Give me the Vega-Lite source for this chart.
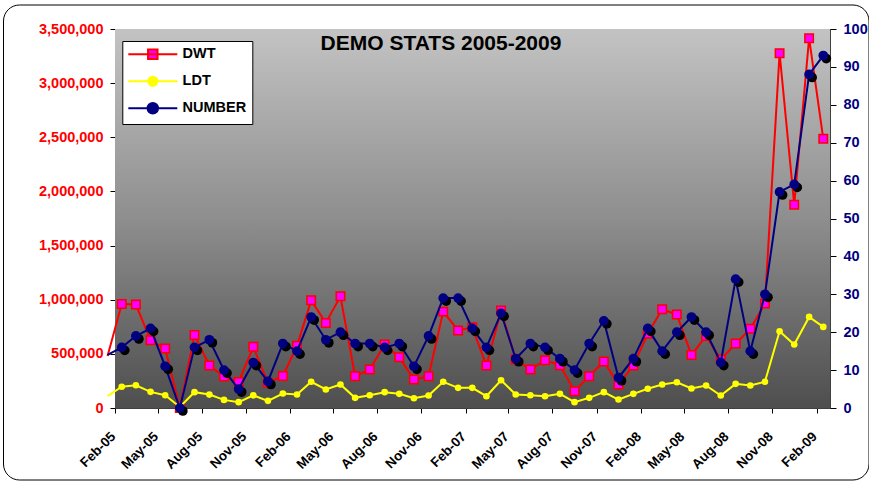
{
  "$schema": "https://vega.github.io/schema/vega-lite/v6.json",
  "width": 715,
  "height": 379,
  "autosize": "none",
  "padding": {"left": 115, "top": 29, "right": 39, "bottom": 74},
  "background": "#FFFFFF",
  "config": {
    "font": "Liberation Sans",
    "view": {"stroke": "#808080", "strokeWidth": 1},
    "axis": {"labelFont": "Liberation Sans", "labelFontWeight": "bold", "domainColor": "#404040", "tickColor": "#000000", "title": null}
  },
  "title": {
    "text": "DEMO STATS 2005-2009",
    "font": "Liberation Sans",
    "fontSize": 21,
    "fontWeight": "bold",
    "color": "#000000",
    "anchor": "middle",
    "frame": "group",
    "baseline": "alphabetic",
    "dx": -31.5,
    "offset": -66.5
  },
  "data": {
    "values": [
      {"month": "2005-01-01", "DWT": 480000, "LDT": 110000, "NUMBER": 14},
      {"month": "2005-02-01", "DWT": 961000, "LDT": 196000, "NUMBER": 16},
      {"month": "2005-03-01", "DWT": 955000, "LDT": 210000, "NUMBER": 19},
      {"month": "2005-04-01", "DWT": 625000, "LDT": 149000, "NUMBER": 21},
      {"month": "2005-05-01", "DWT": 549000, "LDT": 118000, "NUMBER": 11},
      {"month": "2005-06-01", "DWT": 0, "LDT": 10000, "NUMBER": 0},
      {"month": "2005-07-01", "DWT": 675000, "LDT": 146000, "NUMBER": 16},
      {"month": "2005-08-01", "DWT": 392000, "LDT": 124000, "NUMBER": 18},
      {"month": "2005-09-01", "DWT": 290000, "LDT": 75000, "NUMBER": 10},
      {"month": "2005-10-01", "DWT": 241000, "LDT": 54000, "NUMBER": 5},
      {"month": "2005-11-01", "DWT": 565000, "LDT": 117000, "NUMBER": 12},
      {"month": "2005-12-01", "DWT": 233000, "LDT": 66000, "NUMBER": 7},
      {"month": "2006-01-01", "DWT": 296000, "LDT": 134000, "NUMBER": 17},
      {"month": "2006-02-01", "DWT": 574000, "LDT": 125000, "NUMBER": 15},
      {"month": "2006-03-01", "DWT": 994000, "LDT": 242000, "NUMBER": 24},
      {"month": "2006-04-01", "DWT": 786000, "LDT": 171000, "NUMBER": 18},
      {"month": "2006-05-01", "DWT": 1031000, "LDT": 217000, "NUMBER": 20},
      {"month": "2006-06-01", "DWT": 293000, "LDT": 94000, "NUMBER": 17},
      {"month": "2006-07-01", "DWT": 355000, "LDT": 118000, "NUMBER": 17},
      {"month": "2006-08-01", "DWT": 586000, "LDT": 146000, "NUMBER": 16},
      {"month": "2006-09-01", "DWT": 469000, "LDT": 131000, "NUMBER": 17},
      {"month": "2006-10-01", "DWT": 263000, "LDT": 90000, "NUMBER": 11},
      {"month": "2006-11-01", "DWT": 293000, "LDT": 115000, "NUMBER": 19},
      {"month": "2006-12-01", "DWT": 890000, "LDT": 242000, "NUMBER": 29},
      {"month": "2007-01-01", "DWT": 716000, "LDT": 186000, "NUMBER": 29},
      {"month": "2007-02-01", "DWT": 745000, "LDT": 186000, "NUMBER": 21},
      {"month": "2007-03-01", "DWT": 392000, "LDT": 109000, "NUMBER": 16},
      {"month": "2007-04-01", "DWT": 900000, "LDT": 256000, "NUMBER": 25},
      {"month": "2007-05-01", "DWT": 447000, "LDT": 125000, "NUMBER": 13},
      {"month": "2007-06-01", "DWT": 355000, "LDT": 118000, "NUMBER": 17},
      {"month": "2007-07-01", "DWT": 441000, "LDT": 109000, "NUMBER": 16},
      {"month": "2007-08-01", "DWT": 395000, "LDT": 131000, "NUMBER": 13},
      {"month": "2007-09-01", "DWT": 155000, "LDT": 54000, "NUMBER": 10},
      {"month": "2007-10-01", "DWT": 293000, "LDT": 94000, "NUMBER": 17},
      {"month": "2007-11-01", "DWT": 430000, "LDT": 146000, "NUMBER": 23},
      {"month": "2007-12-01", "DWT": 217000, "LDT": 78000, "NUMBER": 8},
      {"month": "2008-01-01", "DWT": 392000, "LDT": 131000, "NUMBER": 13},
      {"month": "2008-02-01", "DWT": 686000, "LDT": 178000, "NUMBER": 21},
      {"month": "2008-03-01", "DWT": 912000, "LDT": 217000, "NUMBER": 15},
      {"month": "2008-04-01", "DWT": 863000, "LDT": 238000, "NUMBER": 20},
      {"month": "2008-05-01", "DWT": 490000, "LDT": 180000, "NUMBER": 24},
      {"month": "2008-06-01", "DWT": 665000, "LDT": 208000, "NUMBER": 20},
      {"month": "2008-07-01", "DWT": 447000, "LDT": 115000, "NUMBER": 12},
      {"month": "2008-08-01", "DWT": 595000, "LDT": 223000, "NUMBER": 34},
      {"month": "2008-09-01", "DWT": 731000, "LDT": 208000, "NUMBER": 15},
      {"month": "2008-10-01", "DWT": 964000, "LDT": 242000, "NUMBER": 30},
      {"month": "2008-11-01", "DWT": 3277000, "LDT": 709000, "NUMBER": 57},
      {"month": "2008-12-01", "DWT": 1877000, "LDT": 586000, "NUMBER": 59},
      {"month": "2009-01-01", "DWT": 3415000, "LDT": 841000, "NUMBER": 88},
      {"month": "2009-02-01", "DWT": 2486000, "LDT": 749000, "NUMBER": 93}
    ]
  },
  "layer": [
    {
      "data": {"values": [{}]},
      "mark": {
        "type": "rect",
        "fill": {"gradient": "linear", "x1": 0, "y1": 0, "x2": 0, "y2": 1,
          "stops": [{"offset": 0, "color": "#C3C3C3"}, {"offset": 0.5, "color": "#8E8E8E"}, {"offset": 1, "color": "#4E4E4E"}]}
      },
      "encoding": {"x": {"value": 0}, "x2": {"value": "width"}, "y": {"value": 0}, "y2": {"value": "height"}}
    },
    {
      "data": {"values": [{}]},
      "mark": {"type": "rect", "filled": false, "stroke": "#000000", "strokeWidth": 1, "cornerRadius": 16, "clip": false},
      "encoding": {"x": {"value": -111.5}, "x2": {"value": 754}, "y": {"value": -24}, "y2": {"value": 451}}
    },
    {
      "encoding": {
        "x": {"field": "month", "type": "temporal", "timeUnit": "utcyearmonth", "bandPosition": 0.5,
          "scale": {"type": "utc", "domain": [{"year": 2005, "month": 2, "date": 1, "utc": true}, {"year": 2009, "month": 3, "date": 1, "utc": true}]},
          "axis": {"values": [
            {"year": 2005, "month": 2, "date": 1, "utc": true}, {"year": 2005, "month": 5, "date": 1, "utc": true}, {"year": 2005, "month": 8, "date": 1, "utc": true}, {"year": 2005, "month": 11, "date": 1, "utc": true},
            {"year": 2006, "month": 2, "date": 1, "utc": true}, {"year": 2006, "month": 5, "date": 1, "utc": true}, {"year": 2006, "month": 8, "date": 1, "utc": true}, {"year": 2006, "month": 11, "date": 1, "utc": true},
            {"year": 2007, "month": 2, "date": 1, "utc": true}, {"year": 2007, "month": 5, "date": 1, "utc": true}, {"year": 2007, "month": 8, "date": 1, "utc": true}, {"year": 2007, "month": 11, "date": 1, "utc": true},
            {"year": 2008, "month": 2, "date": 1, "utc": true}, {"year": 2008, "month": 5, "date": 1, "utc": true}, {"year": 2008, "month": 8, "date": 1, "utc": true}, {"year": 2008, "month": 11, "date": 1, "utc": true},
            {"year": 2009, "month": 2, "date": 1, "utc": true}],
            "labelExpr": "utcFormat(datum.value, '%b-%y')", "labelAngle": -45, "labelAlign": "right", "labelBaseline": "middle",
            "labelFontSize": 13.5, "labelColor": "#000000", "labelPadding": 21, "labelOffset": -2, "tickSize": 5,
            "grid": false, "labelOverlap": false, "labelFlush": false, "domainColor": "#404040"}}
      },
      "layer": [
        {
          "encoding": {
            "y": {"field": "DWT", "type": "quantitative", "scale": {"domain": [0, 3500000]},
              "axis": {"orient": "left", "values": [0, 500000, 1000000, 1500000, 2000000, 2500000, 3000000, 3500000], "format": ",d",
                "labelColor": "#FF0000", "labelFontSize": 14.5, "labelPadding": 7, "tickSize": 5, "grid": true, "gridColor": "#000000", "gridWidth": 1, "domainColor": "#404040"}}
          },
          "layer": [
            {
              "mark": {"type": "line", "strokeWidth": 2, "clip": false},
              "encoding": {
                "color": {"datum": "DWT", "type": "nominal",
                  "scale": {"domain": ["DWT", "LDT", "NUMBER"], "range": ["#FF0000", "#FFFF00", "#000080"]},
                  "legend": {
                    "orient": "none", "legendX": 7.3, "legendY": 12, "direction": "vertical", "title": null,
                    "fillColor": "#FFFFFF", "strokeColor": "#000000", "padding": 6,
                    "labelFont": "Liberation Sans", "labelFontWeight": "bold", "labelFontSize": 14.5, "labelColor": "#000000",
                    "symbolSize": 100, "symbolStrokeWidth": 2, "symbolOffset": 17.25, "labelOffset": 22.5, "rowPadding": 9,
                    "labelExpr": "datum.label + '\u00a0\u00a0'",
                    "encode": {"symbols": {"update": {
                      "shape": {"signal": "datum.value === 'DWT' ? 'M-4.9,0H4.9M-0.95,-0.95H0.95V0.95H-0.95Z' : datum.value === 'LDT' ? 'M-4.9,0H4.9M0.9,0A0.9,0.9 0 1,1 -0.9,0A0.9,0.9 0 1,1 0.9,0Z' : 'M-4.9,0H4.9M1.05,0A1.05,1.05 0 1,1 -1.05,0A1.05,1.05 0 1,1 1.05,0Z'"},
                      "fill": {"signal": "datum.value === 'DWT' ? '#FF00FF' : datum.value === 'LDT' ? '#FFFF00' : '#000080'"},
                      "stroke": {"signal": "datum.value === 'DWT' ? '#FF0000' : datum.value === 'LDT' ? '#FFFF00' : '#000080'"},
                      "strokeWidth": {"value": 2},
                      "opacity": {"value": 1},
                      "fillOpacity": {"value": 1},
                      "strokeOpacity": {"value": 1}
                    }}}
                  }}
              }
            },
            {
              "transform": [{"filter": "+toDate(datum.month) > utc(2005, 0, 15)"}],
              "mark": {"type": "square", "size": 72, "color": "#FF00FF", "stroke": "#FF0000", "strokeWidth": 1.5, "opacity": 1, "clip": false}
            }
          ]
        },
        {
          "encoding": {
            "y": {"field": "LDT", "type": "quantitative"}
          },
          "layer": [
            {
              "mark": {"type": "line", "strokeWidth": 2, "clip": false},
              "encoding": {"color": {"datum": "LDT", "type": "nominal"}}
            },
            {
              "transform": [{"filter": "+toDate(datum.month) > utc(2005, 0, 15)"}],
              "mark": {"type": "circle", "size": 44, "color": "#FFFF00", "opacity": 1, "clip": false}
            }
          ]
        }
      ]
    },
    {
      "encoding": {
        "x": {"field": "month", "type": "temporal", "timeUnit": "utcyearmonth", "bandPosition": 0.5},
        "y": {"field": "NUMBER", "type": "quantitative", "scale": {"domain": [0, 100]},
          "axis": {"orient": "right", "values": [0, 10, 20, 30, 40, 50, 60, 70, 80, 90, 100],
            "labelColor": "#000080", "labelFontSize": 14.5, "labelPadding": 7, "tickSize": 6, "grid": false, "domainColor": "#404040"}}
      },
      "layer": [
        {
          "mark": {"type": "line", "strokeWidth": 2, "clip": false},
          "encoding": {"color": {"datum": "NUMBER", "type": "nominal"}}
        },
        {
          "transform": [{"filter": "+toDate(datum.month) > utc(2005, 0, 15)"}],
          "mark": {"type": "circle", "size": 95, "color": "#000000", "opacity": 1, "xOffset": 3, "yOffset": 3, "clip": false}
        },
        {
          "transform": [{"filter": "+toDate(datum.month) > utc(2005, 0, 15)"}],
          "mark": {"type": "circle", "size": 95, "color": "#000080", "opacity": 1, "clip": false}
        }
      ]
    }
  ],
  "resolve": {"scale": {"y": "independent"}}
}
